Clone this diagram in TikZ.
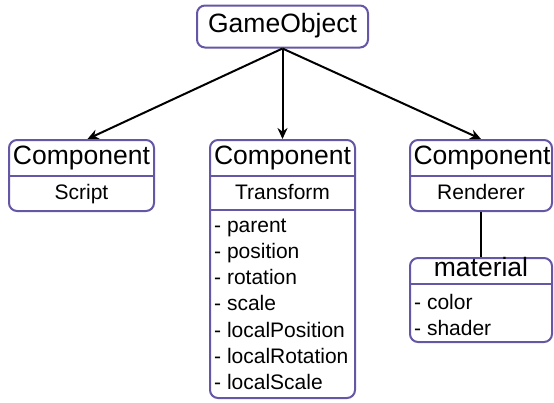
\documentclass[tikz,border=0pt]{standalone}
\usepackage{fontspec}
\setmainfont{Liberation Sans}
\usetikzlibrary{arrows.meta,calc}
\definecolor{boxc}{HTML}{6656A6}
\begin{document}
\begin{tikzpicture}[x=1pt,y=-1pt,
  box/.style={draw=boxc,line width=2pt,rounded corners=8pt,inner sep=0pt,fill=white},
  big/.style={font=\fontsize{26.5}{30}\selectfont,text height=0.716em,text depth=0pt,inner sep=0pt},
  small/.style={font=\fontsize{21}{24}\selectfont,text height=0.716em,text depth=0pt,inner sep=0pt},
  item/.style={small,anchor=west},
  div/.style={draw=boxc,line width=2pt},
  arr/.style={line width=2pt,-{Stealth[length=11pt,width=10pt]}},
  link/.style={line width=2pt}]
\useasboundingbox (0,0) rectangle (554,402);
% boxes
\node[box,minimum width=171pt,minimum height=42pt] (go) at (282.5,26.5) {};
\node[box,minimum width=145pt,minimum height=71pt] (scb) at (81.5,175.5) {};
\node[box,minimum width=145pt,minimum height=258pt] (tfb) at (282.5,269) {};
\node[box,minimum width=142pt,minimum height=71pt] (rdb) at (481,175.5) {};
\node[box,minimum width=142pt,minimum height=84pt] (mtb) at (481,300) {};
% dividers
\draw[div] (scb.west |- 0,176) -- (scb.east |- 0,176);
\draw[div] (tfb.west |- 0,176) -- (tfb.east |- 0,176);
\draw[div] (tfb.west |- 0,210) -- (tfb.east |- 0,210);
\draw[div] (rdb.west |- 0,176) -- (rdb.east |- 0,176);
\draw[div] (mtb.west |- 0,284) -- (mtb.east |- 0,284);
% texts
\node[big] (got) at (282.5,28.5) {GameObject};
\node[big] (sch) at (81.5,160.5) {Component};
\node[small] (scn) at (81.5,196) {Script};
\node[big] (tfh) at (282.5,160.5) {Component};
\node[small] (tfn) at (282.5,196) {Transform};
\node[big] (rdh) at (482,160.5) {Component};
\node[small] (rdn) at (481,196) {Renderer};
\node[big] (mth) at (481,272.5) {material};
\node[item] (t1) at (214,228.5) {- parent};
\node[item] (t2) at (214,254.8) {- position};
\node[item] (t3) at (214,281.1) {- rotation};
\node[item] (t4) at (214,307.4) {- scale};
\node[item] (t5) at (214,333.7) {- localPosition};
\node[item] (t6) at (214,360) {- localRotation};
\node[item] (t7) at (214,386.3) {- localScale};
\node[item] (m1) at (414,305.5) {- color};
\node[item] (m2) at (414,331.5) {- shader};
% connectors
\draw[arr] (go.south) -- ($(scb.north)+(6,0)$);
\draw[arr] (go.south) -- (tfb.north);
\draw[arr] (go.south) -- (rdb.north);
\draw[link] (rdb.south) -- (mtb.north);
\end{tikzpicture}
\end{document}
